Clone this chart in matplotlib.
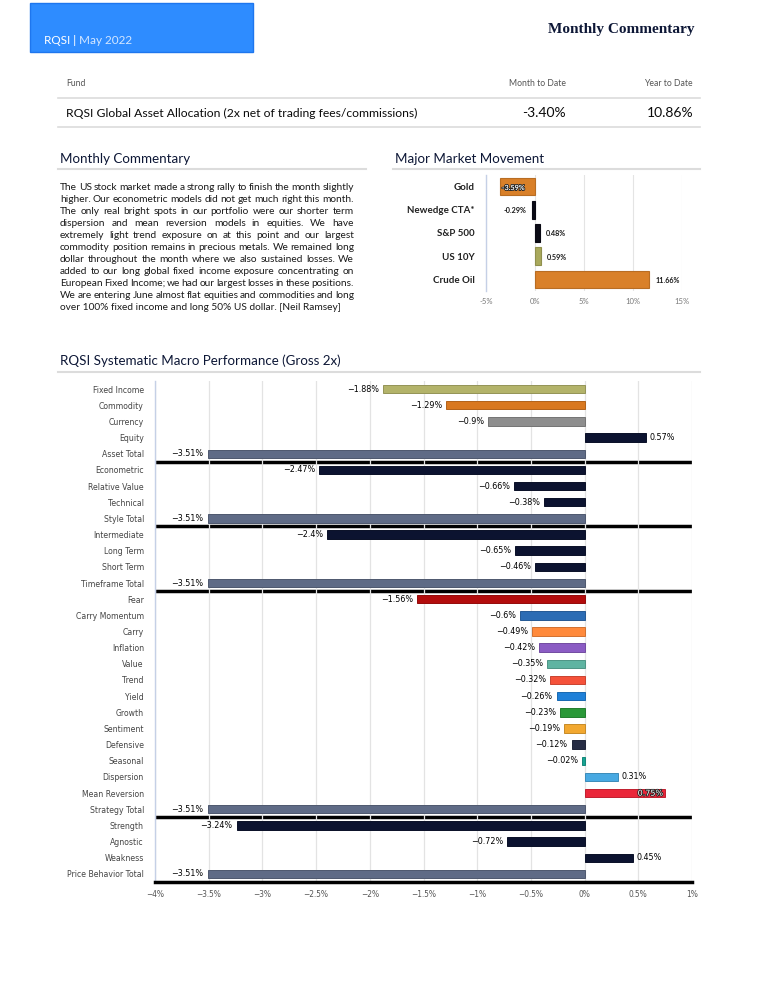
import matplotlib
matplotlib.use("Agg")
import matplotlib.pyplot as plt
from matplotlib.patches import Rectangle
from matplotlib.lines import Line2D
from matplotlib import patheffects as pe
from matplotlib import colors as mcolors
from matplotlib.font_manager import findfont, FontProperties


def have(f):
    try:
        findfont(FontProperties(family=f), fallback_to_default=False)
        return True
    except Exception:
        return False


SANS = "Lato" if have("Lato") else "DejaVu Sans"
NARROW = "Liberation Sans Narrow" if have("Liberation Sans Narrow") else "DejaVu Sans"
NSCALE = 1.0 if NARROW != "DejaVu Sans" else 0.8
SERIF = "Liberation Serif" if have("Liberation Serif") else "DejaVu Serif"
plt.rcParams['font.family'] = [SANS, 'DejaVu Sans']

# ---------------- data ----------------
brand = "RQSI"
report_month = "May 2022"
page_title = "Monthly Commentary"
table_headers = ["Fund", "Month to Date", "Year to Date"]
fund_name = "RQSI Global Asset Allocation (2x net of trading fees/commissions)"
fund_mtd = -3.40
fund_ytd = 10.86

commentary_lines = [
    "The US stock market made a strong rally to finish the month slightly",
    "higher. Our econometric models did not get much right this month.",
    "The only real bright spots in our portfolio were our shorter term",
    "dispersion and mean reversion models in equities. We have",
    "extremely light trend exposure on at this point and our largest",
    "commodity position remains in precious metals. We remained long",
    "dollar throughout the month where we also sustained losses. We",
    "added to our long global fixed income exposure concentrating on",
    "European Fixed Income; we had our largest losses in these positions.",
    "We are entering June almost flat equities and commodities and long",
    "over 100% fixed income and long 50% US dollar. [Neil Ramsey]",
]

market_names = ["Gold", "Newedge CTA*", "S&P 500", "US 10Y", "Crude Oil"]
market_values = [-3.59, -0.29, 0.48, 0.59, 11.66]
market_colors = ["#d98029", "#0b0b16", "#0b0b16", "#a9a95c", "#d98029"]
market_ticks = [-5, 0, 5, 10, 15]

perf_names = [
    "Fixed Income", "Commodity", "Currency", "Equity", "Asset Total",
    "Econometric", "Relative Value", "Technical", "Style Total",
    "Intermediate", "Long Term", "Short Term", "Timeframe Total",
    "Fear", "Carry Momentum", "Carry", "Inflation", "Value", "Trend",
    "Yield", "Growth", "Sentiment", "Defensive", "Seasonal", "Dispersion",
    "Mean Reversion", "Strategy Total",
    "Strength", "Agnostic", "Weakness", "Price Behavior Total",
]
perf_values = [
    -1.88, -1.29, -0.9, 0.57, -3.51,
    -2.47, -0.66, -0.38, -3.51,
    -2.4, -0.65, -0.46, -3.51,
    -1.56, -0.6, -0.49, -0.42, -0.35, -0.32,
    -0.26, -0.23, -0.19, -0.12, -0.02, 0.31,
    0.75, -3.51,
    -3.24, -0.72, 0.45, -3.51,
]
NAVY = "#0c1330"
SLATE = "#5f6b86"
perf_colors = [
    "#b3b36a", "#d9781f", "#8e8e8e", NAVY, SLATE,
    NAVY, NAVY, NAVY, SLATE,
    NAVY, NAVY, NAVY, SLATE,
    "#b30c0c", "#2c6cb4", "#ff8a3c", "#8b5cc4", "#5fb4a2", "#f5523a",
    "#1f80d8", "#2a9838", "#f2a830", "#262c44", "#17a392", "#48a9e2",
    "#ea2639", SLATE,
    NAVY, NAVY, NAVY, SLATE,
]
perf_ticks = [-4, -3.5, -3, -2.5, -2, -1.5, -1, -0.5, 0, 0.5, 1]

# ---------------- figure ----------------
W, H = 760, 984
fig = plt.figure(figsize=(W / 100, H / 100), dpi=100)
fig.patch.set_facecolor("white")
renderer = fig.canvas.get_renderer()
TITLE_C = "#0d1736"


def X(x):
    return x / W


def Y(y):
    return 1 - y / H


def txt(x, y, s, **kw):
    kw.setdefault("va", "center")
    return fig.text(X(x), Y(y), s, **kw)


def hline(x0, x1, y, color="#dcdcdc", lw=1.2):
    fig.add_artist(Line2D([X(x0), X(x1)], [Y(y), Y(y)], transform=fig.transFigure,
                          color=color, lw=lw))


def width_px(t):
    return t.get_window_extent(renderer).width


def darker(c, f=0.8):
    r, g, b = mcolors.to_rgb(c)
    return (r * f, g * f, b * f)


def pct(v):
    return f"{v:g}%".replace("-", "\u2212")


# header
fig.add_artist(Rectangle((X(30), Y(52)), (253 - 30) / W, (52 - 3) / H,
                         transform=fig.transFigure, facecolor="#2e8cff",
                         edgecolor="#1e76ee", lw=1))
t1 = txt(44, 41, brand + " |", color="white", fontsize=8.5)
w1 = width_px(t1)
txt(44 + w1 + 3, 41, report_month, color="#d4e7ff", fontsize=8.5)
txt(695, 30, page_title, ha="right", family=SERIF, fontsize=11,
    fontweight="bold", color=TITLE_C)

# fund table
txt(66, 84, table_headers[0], fontsize=6.2, color="#555555")
txt(566, 84, table_headers[1], ha="right", fontsize=6.2, color="#555555")
txt(693, 84, table_headers[2], ha="right", fontsize=6.2, color="#555555")
hline(58, 700, 98)
txt(66, 113, fund_name, fontsize=8.7, color="#0a0a0a")
txt(566, 113, f"{fund_mtd:.2f}%", ha="right", fontsize=10, color="#0a0a0a")
txt(693, 113, f"{fund_ytd:.2f}%", ha="right", fontsize=10, color="#0a0a0a")
hline(58, 700, 127)

# section headings
txt(60, 159, "Monthly Commentary", fontsize=9.6, color=TITLE_C)
hline(58, 366, 169, lw=1.5)
txt(395, 159, "Major Market Movement", fontsize=9.6, color=TITLE_C)
hline(393, 700, 169, lw=1.5)
txt(60, 361, "RQSI Systematic Macro Performance (Gross 2x)", fontsize=9.6, color=TITLE_C)
hline(58, 700, 372, lw=1.5)

# justified commentary
px0, px1 = 60, 354
py0, pdy = 188, 11.9
PSIZE = 7.3
for k, line in enumerate(commentary_lines):
    y = py0 + k * pdy
    if k == len(commentary_lines) - 1:
        txt(px0, y, line, fontsize=PSIZE, color="#1a1a1a")
        continue
    words = line.split()
    ts = [txt(0, y, w, fontsize=PSIZE, color="#1a1a1a") for w in words]
    ws = [width_px(t) for t in ts]
    gap = (px1 - px0 - sum(ws)) / (len(words) - 1)
    x = px0
    for t, w in zip(ts, ws):
        t.set_x(X(x))
        x += w + gap


def place_labels(ax, values, labels_kw, out_px=5, in_px=3, dy_px=0):
    anns = []
    for i, v in enumerate(values):
        off = out_px if v >= 0 else -out_px
        a = ax.annotate(pct(v) if labels_kw.get("minus", True) else f"{v:.2f}%",
                        xy=(v, i), xytext=(off, -dy_px), textcoords="offset pixels",
                        ha="left" if v >= 0 else "right", va="center",
                        fontsize=labels_kw["size"], fontweight=labels_kw.get("weight", "normal"),
                        family=labels_kw.get("family"), color=labels_kw.get("color", "black"),
                        zorder=5, annotation_clip=False)
        anns.append((a, v))
    fig.canvas.draw()
    axbb = ax.get_window_extent(renderer)
    for a, v in anns:
        bb = a.get_window_extent(renderer)
        if bb.x0 < axbb.x0 - 1 or bb.x1 > axbb.x1 + 1:
            if v >= 0:
                a.set_ha("right")
                a.xyann = (-in_px, -dy_px)
            else:
                a.set_ha("left")
                a.xyann = (in_px, -dy_px)
            a.set_color("white")
            a.set_path_effects([pe.withStroke(linewidth=1.2, foreground="#222222")])


# ---------------- market movement chart ----------------
axm = fig.add_axes([X(486), Y(291), (682 - 486) / W, (291 - 175) / H])
ym = list(range(len(market_names)))
axm.barh(ym, market_values, height=0.76, color=market_colors,
         edgecolor=[darker(c, 0.85) for c in market_colors], lw=0.8, zorder=3)
axm.set_xlim(market_ticks[0], market_ticks[-1])
axm.set_ylim(len(market_names) - 0.5, -0.5)
axm.set_xticks(market_ticks)
axm.set_xticklabels([f"{t}%" for t in market_ticks], fontsize=5.5, color="#777777")
axm.set_yticks(ym)
axm.set_yticklabels(market_names, fontsize=7, fontweight="bold", color="#222222")
axm.tick_params(axis="y", length=0, pad=8)
axm.tick_params(axis="x", length=0, pad=5)
axm.grid(axis="x", color="#e4e4e4", lw=0.8)
axm.set_axisbelow(True)
for s in ["top", "right", "bottom"]:
    axm.spines[s].set_visible(False)
axm.spines["left"].set_color("#c5d0e6")
axm.spines["left"].set_linewidth(1)
place_labels(axm, market_values, {"size": 5.2, "weight": "bold", "color": "#1a1a1a",
                                  "minus": False}, out_px=6, in_px=2, dy_px=1)

# ---------------- systematic macro performance chart ----------------
axp = fig.add_axes([X(155), Y(882), (692 - 155) / W, (882 - 381) / H])
yp = list(range(len(perf_names)))
axp.barh(yp, perf_values, height=0.52, color=perf_colors,
         edgecolor=[darker(c, 0.82) for c in perf_colors], lw=0.7, zorder=3)
axp.set_xlim(perf_ticks[0], perf_ticks[-1])
axp.set_ylim(len(perf_names) - 0.5, -0.5)
axp.set_xticks(perf_ticks)
axp.set_xticklabels([pct(t) for t in perf_ticks], fontsize=6.8 * NSCALE,
                    color="#555555", family=NARROW)
axp.set_yticks(yp)
axp.set_yticklabels(perf_names, fontsize=7 * NSCALE, color="#444444", family=NARROW)
axp.tick_params(axis="y", length=0, pad=8)
axp.tick_params(axis="x", length=0, pad=6)
axp.grid(axis="x", color="#e3e3e3", lw=0.9, zorder=1)
axp.set_axisbelow(True)
for s in ["top", "right"]:
    axp.spines[s].set_visible(False)
axp.spines["left"].set_color("#c5d0e6")
axp.spines["left"].set_linewidth(1)
axp.spines["bottom"].set_color("black")
axp.spines["bottom"].set_linewidth(2.5)
for i, name in enumerate(perf_names):
    if name.endswith("Total") and i < len(perf_names) - 1:
        axp.axhline(i + 0.5, color="black", lw=2.5, zorder=0.4)
place_labels(axp, perf_values, {"size": 7.2 * NSCALE, "family": NARROW, "color": "black"},
             out_px=4, in_px=2, dy_px=0)

fig.savefig("out.png", dpi=100, facecolor="white")
